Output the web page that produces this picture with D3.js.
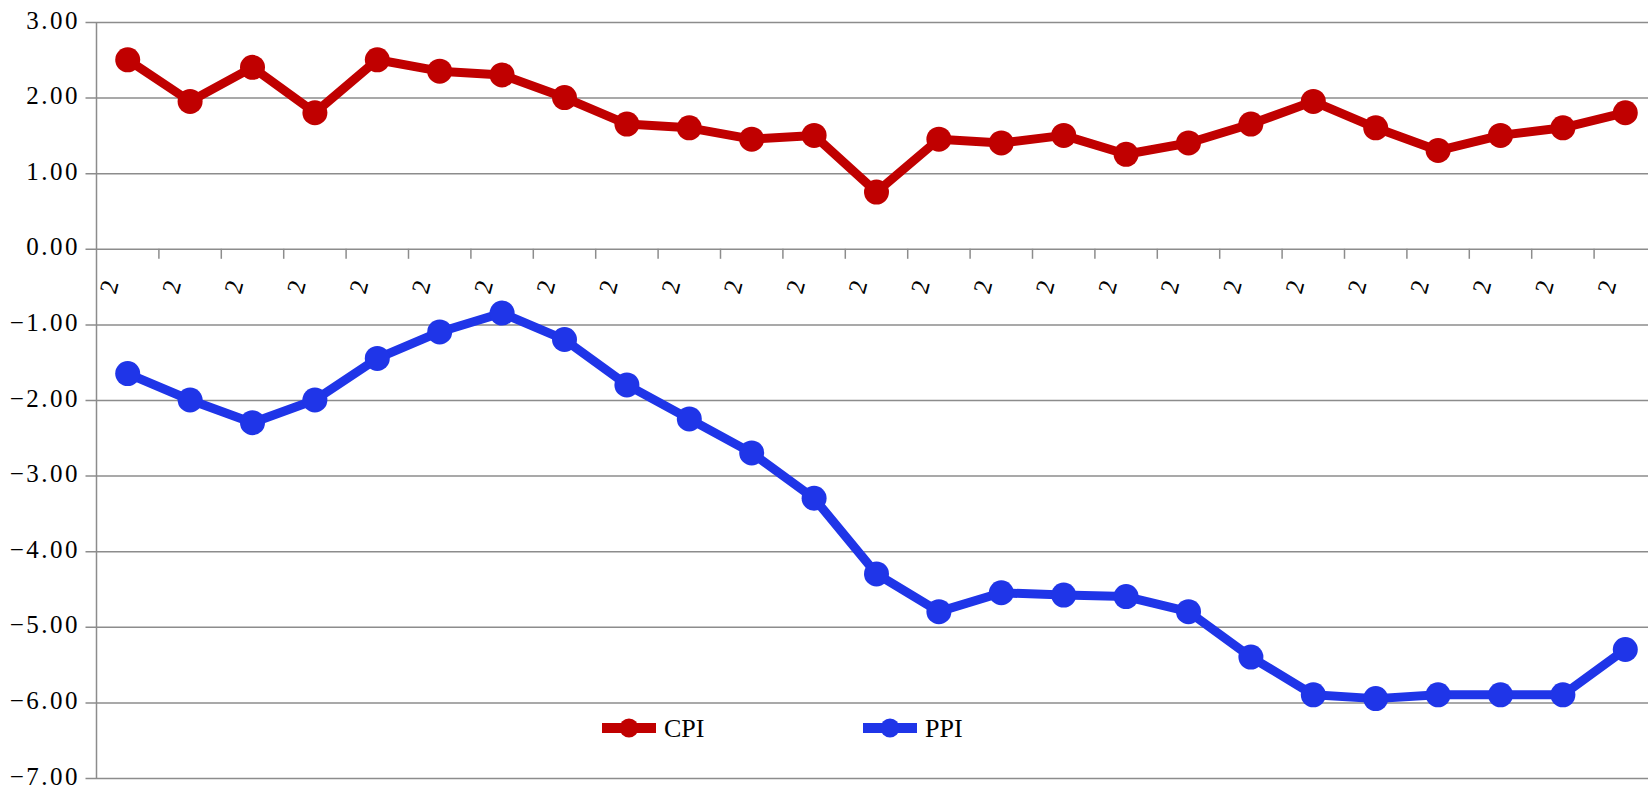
<!DOCTYPE html>
<html>
<head>
<meta charset="utf-8">
<script src="https://cdn.jsdelivr.net/npm/d3@7"></script>
<style>
  body { margin: 0; background: #fff; }
  svg { display: block; }
</style>
</head>
<body>
<svg id="drawing_region"></svg>
<script>
// category labels (only the first character survives in the source chart)
const categories = ["2","2","2","2","2","2","2","2","2","2","2","2","2",
                    "2","2","2","2","2","2","2","2","2","2","2","2"];
const cpi = [2.50, 1.95, 2.40, 1.80, 2.50, 2.35, 2.30, 2.00, 1.65, 1.60, 1.45, 1.50, 0.75,
             1.45, 1.40, 1.50, 1.25, 1.40, 1.65, 1.95, 1.60, 1.30, 1.50, 1.60, 1.80];
const ppi = [-1.65, -2.00, -2.30, -2.00, -1.45, -1.10, -0.85, -1.20, -1.80, -2.25, -2.70, -3.30, -4.30,
             -4.80, -4.55, -4.58, -4.60, -4.80, -5.40, -5.90, -5.95, -5.90, -5.90, -5.90, -5.30];
const yTicks = [3, 2, 1, 0, -1, -2, -3, -4, -5, -6, -7];
const seriesNames = ["CPI", "PPI"];
const seriesColors = ["#c00000", "#1f35e8"];

const config = {
    width: 1648,
    height: 787,
    left: 96.5,
    step: 62.4,
    top: 22,
    bottom: 778,
    grid: '#8c8c8c'
};

const svg = d3.select('#drawing_region')
    .attr('width', config.width)
    .attr('height', config.height);

const xscale = d3.scaleBand()
    .domain(d3.range(categories.length))
    .range([config.left, config.left + config.step * categories.length])
    .padding(0);

const yscale = d3.scaleLinear()
    .domain([-7, 3])
    .range([config.bottom, config.top]);

const fmt = d3.format('.2f');

// horizontal gridlines + y ticks
const yaxis = d3.axisLeft(yscale)
    .tickValues(yTicks)
    .tickSizeInner(-(config.width - config.left))
    .tickSizeOuter(0)
    .tickPadding(0)
    .tickFormat('');

const yaxis_group = svg.append('g')
    .attr('transform', `translate(${config.left}, 0)`)
    .call(yaxis);
yaxis_group.select('.domain').remove();
yaxis_group.selectAll('line')
    .attr('x1', -11)
    .attr('stroke', config.grid)
    .attr('stroke-width', 1.5);

// vertical axis line
svg.append('line')
    .attr('x1', config.left).attr('x2', config.left)
    .attr('y1', yscale(3)).attr('y2', yscale(-7))
    .attr('stroke', config.grid)
    .attr('stroke-width', 1.5);

// y tick labels
svg.append('g').selectAll('text')
    .data(yTicks)
    .join('text')
    .attr('x', 80)
    .attr('y', d => yscale(d))
    .attr('dy', '0.26em')
    .attr('text-anchor', 'end')
    .attr('font-family', '"Liberation Serif", serif')
    .attr('font-size', 25)
    .attr('letter-spacing', 2.5)
    .attr('fill', '#000')
    .text(d => fmt(d));

// category tick marks on the zero line
svg.append('g').selectAll('line')
    .data(categories.slice(1).map((c, i) => i + 1))
    .join('line')
    .attr('x1', d => xscale(d)).attr('x2', d => xscale(d))
    .attr('y1', yscale(0)).attr('y2', yscale(0) + 10)
    .attr('stroke', config.grid)
    .attr('stroke-width', 1.5);

// category labels
svg.append('g').selectAll('text')
    .data(categories)
    .join('text')
    .attr('transform', (d, i) =>
        `translate(${xscale(i) + xscale.bandwidth() / 2 - 19}, ${yscale(0) + 38}) rotate(-75)`)
    .attr('text-anchor', 'middle')
    .attr('dy', '0.35em')
    .attr('font-family', '"Liberation Serif", serif')
    .attr('font-size', 25)
    .attr('fill', '#000')
    .text(d => d);

// series
const cx = i => xscale(i) + xscale.bandwidth() / 2;
const line = d3.line()
    .x((d, i) => cx(i))
    .y(d => yscale(d));

[cpi, ppi].forEach((values, k) => {
    const g = svg.append('g');
    g.append('path')
        .datum(values)
        .attr('d', line)
        .attr('fill', 'none')
        .attr('stroke', seriesColors[k])
        .attr('stroke-width', 9)
        .attr('stroke-linejoin', 'round');
    g.selectAll('circle')
        .data(values)
        .join('circle')
        .attr('cx', (d, i) => cx(i))
        .attr('cy', d => yscale(d))
        .attr('r', 12.5)
        .attr('fill', seriesColors[k]);
});

// legend
const legendX = [602, 863];
const legend = svg.append('g').selectAll('g')
    .data(seriesNames)
    .join('g')
    .attr('transform', (d, i) => `translate(${legendX[i]}, 728)`);
legend.append('line')
    .attr('x1', 0).attr('x2', 54)
    .attr('stroke', (d, i) => seriesColors[i])
    .attr('stroke-width', 10);
legend.append('circle')
    .attr('cx', 27)
    .attr('r', 9.5)
    .attr('fill', (d, i) => seriesColors[i]);
legend.append('text')
    .attr('x', 62)
    .attr('dy', '0.35em')
    .attr('font-family', '"Liberation Serif", serif')
    .attr('font-size', 26)
    .attr('fill', '#000')
    .text(d => d);
</script>
</body>
</html>
